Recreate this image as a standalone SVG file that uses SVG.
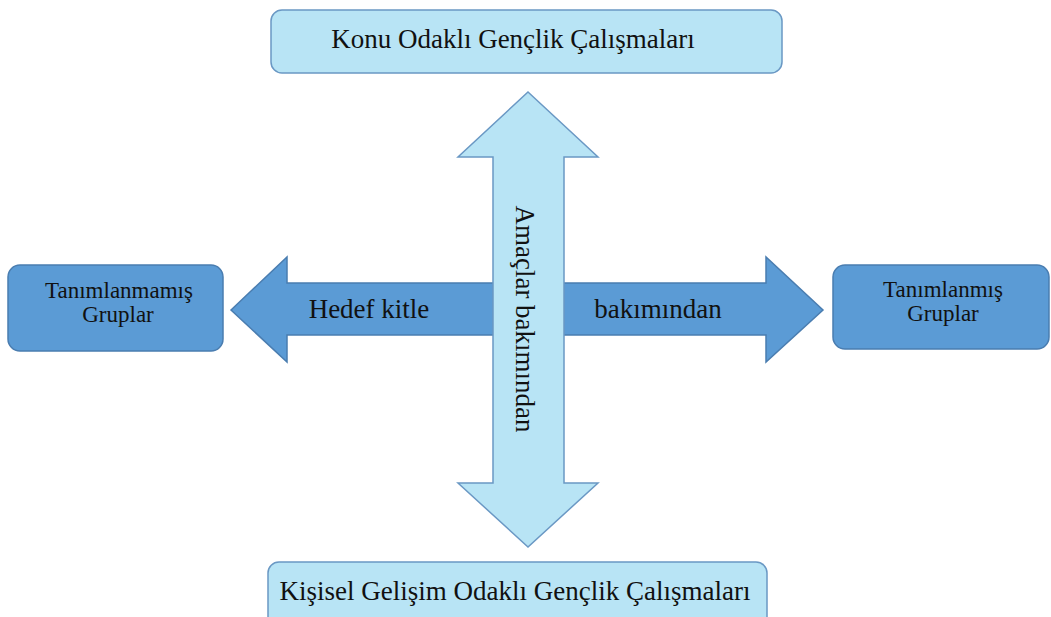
<svg xmlns="http://www.w3.org/2000/svg" width="1051" height="617" viewBox="0 0 1051 617">
<style>
.light{fill:#B8E4F5;stroke:#6A98C4;stroke-width:1.5}
.dark{fill:#5B9BD5;stroke:#4A7DB0;stroke-width:1.5}
.t{font-family:"Liberation Serif","Times New Roman",serif;fill:#111;text-anchor:middle}
.big{font-size:27px}
.mid{font-size:27px}
.sm{font-size:23px}
</style>
<rect width="1051" height="617" fill="#ffffff"/>
<g id="connectors">
<polygon id="h-arrow" class="dark" points="231,310 287,257 287,283 766,283 766,257 823,310 766,362 766,335 287,335 287,362"/>
<polygon id="v-arrow" class="light" points="528,92 598,157 564,157 564,483 598,483 528,547 458,483 493,483 493,157 458,157"/>
<text class="t big" x="369" y="318">Hedef kitle</text>
<text class="t big" x="658" y="318">bakımından</text>
<text class="t big" transform="translate(516,319) rotate(90)" x="0" y="0">Amaçlar bakımından</text>
</g>
<g id="top">
<rect class="light" x="271" y="10" width="511" height="63" rx="11"/>
<text class="t mid" x="513" y="48">Konu Odaklı Gençlik Çalışmaları</text>
</g>
<g id="bottom">
<rect class="light" x="268" y="562" width="499" height="70" rx="11"/>
<text class="t mid" x="515" y="600">Kişisel Gelişim Odaklı Gençlik Çalışmaları</text>
</g>
<g id="left">
<rect class="dark" x="8" y="265" width="215" height="86" rx="12"/>
<text class="t sm" x="119" y="298">Tanımlanmamış</text>
<text class="t sm" x="118" y="322">Gruplar</text>
</g>
<g id="right">
<rect class="dark" x="833" y="265" width="216" height="84" rx="12"/>
<text class="t sm" x="943" y="297">Tanımlanmış</text>
<text class="t sm" x="943" y="321">Gruplar</text>
</g>
</svg>
